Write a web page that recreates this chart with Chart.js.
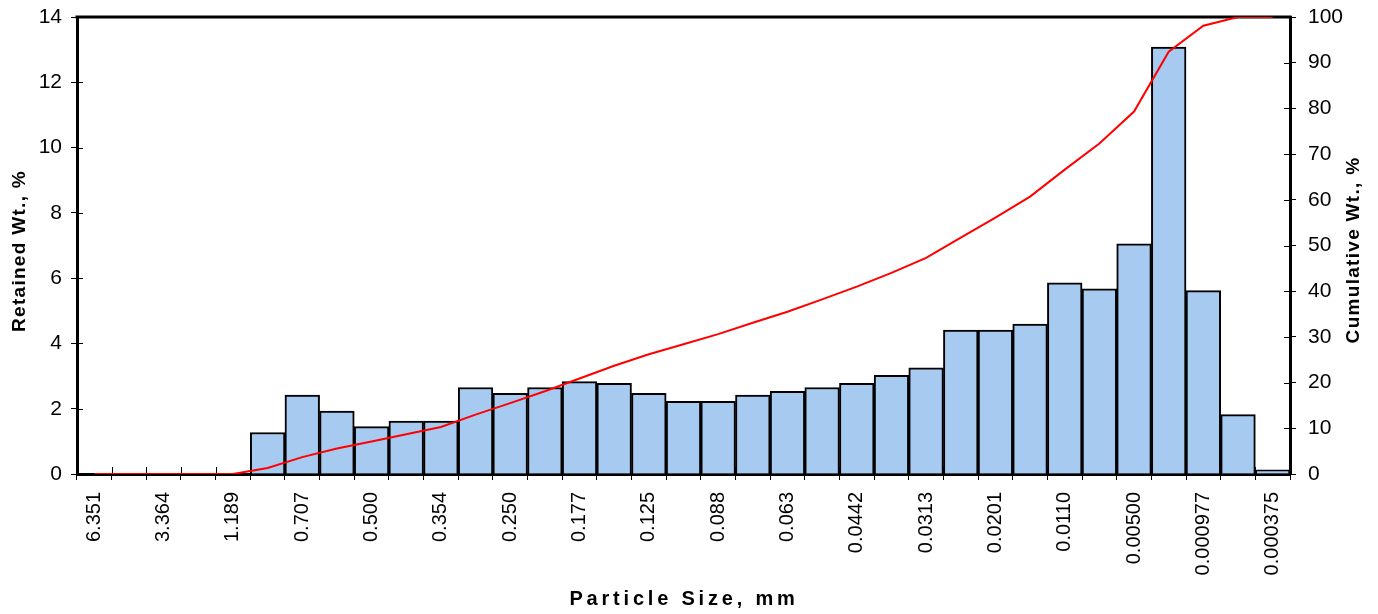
<!DOCTYPE html>
<html>
<head>
<meta charset="utf-8">
<script src="https://cdn.jsdelivr.net/npm/chart.js@4"></script>
<style>
  body { margin: 0; background: #fff; }
</style>
</head>
<body>
<canvas id="psdChart" width="1378" height="614"></canvas>
<script>
// sieve sizes shown under every other bar
const tickLabels = ['6.351', '3.364', '1.189', '0.707', '0.500', '0.354', '0.250', '0.177', '0.125',
  '0.088', '0.063', '0.0442', '0.0313', '0.0201', '0.0110', '0.00500', '0.000977', '0.000375'];

// retained weight per size class, %
const retained = [0, 0, 0, 0, 0, 1.27, 2.42, 1.93, 1.45, 1.62, 1.62, 2.65, 2.47, 2.65, 2.83, 2.78,
  2.47, 2.23, 2.23, 2.42, 2.53, 2.65, 2.78, 3.02, 3.25, 4.41, 4.41, 4.59, 5.86, 5.67, 7.05, 13.08,
  5.62, 1.82, 0.13];

// cumulative weight, % (right axis)
const cumulative = [0, 0, 0, 0, 0, 1.3, 3.7, 5.6, 7.1, 8.7, 10.3, 13.0, 15.5, 18.1, 20.9, 23.7,
  26.2, 28.4, 30.6, 33.1, 35.5, 38.2, 41.0, 44.0, 47.3, 51.7, 56.1, 60.7, 66.6, 72.3, 79.3, 92.4,
  98.1, 100, 100];

const categories = retained.map((_, i) => i % 2 ? '' : tickLabels[i / 2]);

const FONT = '"Liberation Sans", Arial, sans-serif';

// top frame line, ticks that cross the axes, axis titles
const framePlugin = {
  id: 'frame',
  beforeDatasetsDraw(chart) {
    const { ctx, chartArea: a, scales } = chart;
    ctx.save();
    ctx.strokeStyle = '#000';
    ctx.lineWidth = 3;
    ctx.beginPath();
    ctx.moveTo(a.left - 1.5, a.top);
    ctx.lineTo(a.right + 1.5, a.top);
    ctx.stroke();

    ctx.lineWidth = 1;
    ctx.beginPath();
    scales.y.ticks.forEach((t, i) => {
      const py = Math.round(scales.y.getPixelForTick(i)) + 0.5;
      ctx.moveTo(a.left, py);
      ctx.lineTo(a.left + 6, py);
    });
    scales.y1.ticks.forEach((t, i) => {
      const py = Math.round(scales.y1.getPixelForTick(i)) + 0.5;
      ctx.moveTo(a.right - 6, py);
      ctx.lineTo(a.right, py);
    });
    const half = (scales.x.getPixelForValue(1) - scales.x.getPixelForValue(0)) / 2;
    for (let i = 0; i <= retained.length; i++) {
      const px = Math.round(scales.x.getPixelForValue(i) - half) + 0.5;
      ctx.moveTo(px, a.bottom);
      ctx.lineTo(px, a.bottom - 7);
    }
    ctx.stroke();
    ctx.restore();
  },
  afterDraw(chart) {
    const { ctx } = chart;
    ctx.save();
    ctx.fillStyle = '#000';
    ctx.textAlign = 'center';
    ctx.textBaseline = 'alphabetic';

    ctx.font = 'bold 20px ' + FONT;
    ctx.letterSpacing = '3.8px';
    ctx.fillText('Particle Size, mm', 684, 605);

    ctx.font = 'bold 19px ' + FONT;
    ctx.letterSpacing = '1.3px';
    ctx.save();
    ctx.translate(25, 251);
    ctx.rotate(-Math.PI / 2);
    ctx.fillText('Retained Wt., %', 0, 0);
    ctx.restore();

    ctx.save();
    ctx.translate(1359, 250);
    ctx.rotate(-Math.PI / 2);
    ctx.fillText('Cumulative Wt., %', 0, 0);
    ctx.restore();
    ctx.restore();
  }
};

// fixed axis sizes so the plot area sits where the reference has it
function fixVertical(width) {
  return scale => {
    scale.width = width;
    scale.paddingTop = 0;
    scale.paddingBottom = 0;
  };
}

const ctx = document.getElementById('psdChart').getContext('2d');
const chart = new Chart(ctx, {
  type: 'bar',
  data: {
    labels: categories,
    datasets: [{
      type: 'line',
      label: 'Cumulative Wt., %',
      data: cumulative,
      yAxisID: 'y1',
      borderColor: '#ff0000',
      borderWidth: 2,
      pointRadius: 0,
      tension: 0,
      order: 0
    }, {
      type: 'bar',
      label: 'Retained Wt., %',
      data: retained,
      yAxisID: 'y',
      backgroundColor: '#a6caf0',
      borderColor: '#000',
      borderWidth: 2,
      barPercentage: 1,
      categoryPercentage: 1,
      order: 1
    }]
  },
  options: {
    responsive: false,
    animation: false,
    layout: { padding: { top: 17, left: 0, right: 0, bottom: 0 } },
    plugins: {
      legend: { display: false },
      tooltip: { enabled: false }
    },
    scales: {
      x: {
        offset: true,
        grid: { offset: true, drawOnChartArea: false, color: '#000', tickLength: 6 },
        border: { color: '#000', width: 3 },
        ticks: {
          autoSkip: false,
          minRotation: 90,
          maxRotation: 90,
          padding: 12,
          color: '#000',
          font: { family: FONT, size: 20 }
        },
        afterFit(scale) {
          scale.height = 140;
          scale.paddingLeft = 0;
          scale.paddingRight = 0;
        }
      },
      y: {
        position: 'left',
        min: 0,
        max: 14,
        ticks: { stepSize: 2, padding: 9, color: '#000', font: { family: FONT, size: 21 } },
        grid: { drawOnChartArea: false, color: '#000', tickLength: 6 },
        border: { color: '#000', width: 3 },
        afterFit: fixVertical(77)
      },
      y1: {
        position: 'right',
        min: 0,
        max: 100,
        ticks: { stepSize: 10, padding: 12, color: '#000', font: { family: FONT, size: 21 } },
        grid: { drawOnChartArea: false, color: '#000', tickLength: 6 },
        border: { color: '#000', width: 3 },
        afterFit: fixVertical(88)
      }
    }
  },
  plugins: [framePlugin]
});
</script>
</body>
</html>
